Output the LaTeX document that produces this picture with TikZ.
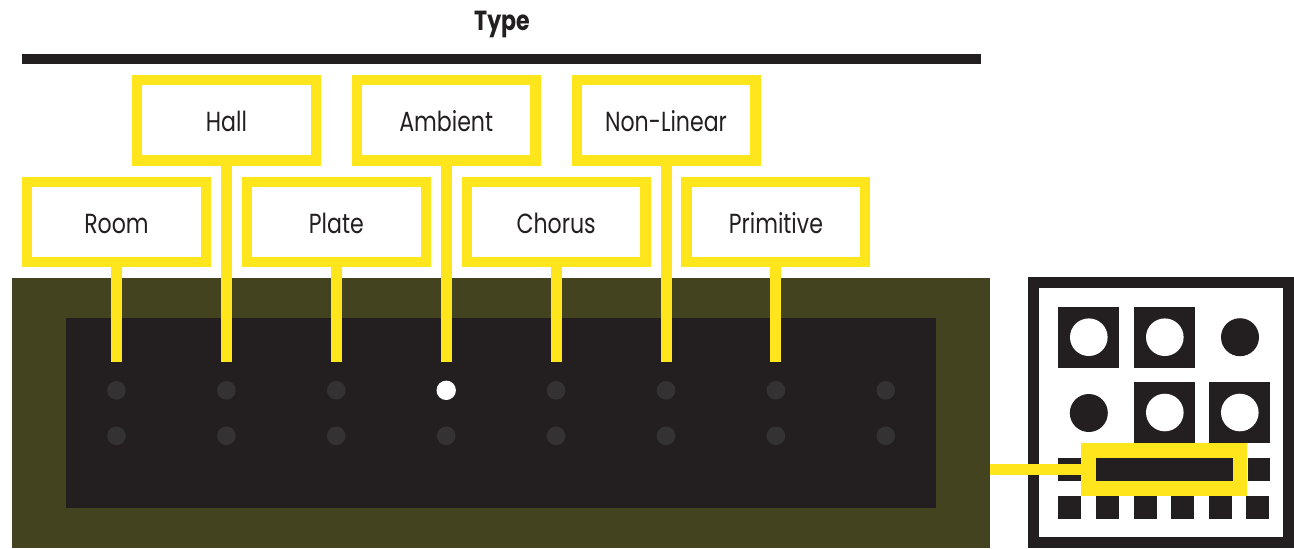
\documentclass[tikz,border=0pt]{standalone}
\usepackage{fontspec}
\setmainfont{Poppins}[FakeStretch=0.8]
\definecolor{ink}{HTML}{231F20}
\definecolor{hiyellow}{HTML}{FFE51C}
\definecolor{olive}{HTML}{43441F}
\definecolor{ledgray}{HTML}{343233}

\begin{document}
\begin{tikzpicture}[x=0.5pt, y=-0.5pt,
    tag/.style={draw=hiyellow, line width=5.15pt, fill=white, inner sep=0pt,
        minimum width=89.35pt, minimum height=40.1pt, text height=11.4pt, text depth=0pt,
        text=ink, font=\fontsize{13.8}{16}\selectfont},
    stem/.style={draw=hiyellow, line width=5.5pt},
    led/.style={fill=ledgray},
    sel/.style={fill=hiyellow, inner sep=0pt, outer sep=0pt, minimum width=83pt, minimum height=26.65pt}]
        \useasboundingbox (0,0) rectangle (1294,548);

        \node[anchor=base, text=ink, font=\bfseries\fontsize{13.8}{16}\selectfont] (title) at (502,30) {Type};
        \fill[ink] (22,54) rectangle (981,64);

        \node[fill=olive, inner sep=0pt, outer sep=0pt, minimum width=489pt, minimum height=135pt] (panel) at (501,413) {};
        \node[fill=ink, inner sep=0pt, outer sep=0pt, minimum width=435pt, minimum height=94.85pt] (screen) at (501.15,412.85) {};

        \foreach \i [evaluate=\i as \x using 6.6+109.9*\i] in {1,...,8} {
            \fill[led] (\x,390.3) circle (4.65pt);
            \fill[led] (\x,435.8) circle (4.65pt);
            \coordinate (s\i) at (\x,362.3);
        }
        \fill[white] (446.2,390.3) circle (4.85pt);

        \node[tag] (room) at (116.5,221.8) {Room};
        \node[tag] (hall) at (226.4,120.3) {Hall};
        \node[tag] (plate) at (336.3,221.8) {Plate};
        \node[tag] (ambient) at (446.2,120.3) {Ambient};
        \node[tag] (chorus) at (556.1,221.8) {Chorus};
        \node[tag] (nonlinear) at (666,120.3) {Non-Linear};
        \node[tag] (primitive) at (775.9,221.8) {Primitive};

        \foreach \n/\i in {room/1, hall/2, plate/3, ambient/4, chorus/5, nonlinear/6, primitive/7}
            \draw[stem] (\n.south) -- (\n.south |- s\i);

        \draw[ink, line width=5.4pt] (1033.1,282.4) rectangle (1288.6,542.6);
        \fill[ink] (1058.3,306.7) rectangle +(61,61);
        \fill[ink] (1134.3,306.7) rectangle +(61,61);
        \fill[ink] (1134.3,382) rectangle +(61,61);
        \fill[ink] (1209.3,382) rectangle +(61,61);
        \fill[white] (1088.8,337.2) circle (9.4pt);
        \fill[white] (1164.8,337.2) circle (9.4pt);
        \fill[white] (1164.8,412.5) circle (9.4pt);
        \fill[white] (1239.8,412.5) circle (9.4pt);
        \fill[ink] (1240,337.2) circle (9.5pt);
        \fill[ink] (1088.8,413) circle (9.5pt);

        \node[sel] (pick) at (1164.3,469.65) {};
        \fill[ink] (1096.3,458.3) rectangle (1233.3,480.7);
        \fill[ink] (1058.3,458.3) rectangle (1081.3,480.7);
        \fill[ink] (1247.7,458.3) rectangle (1270.3,480.7);
        \foreach \x in {1058.3,1095.9,1133.5,1171.1,1208.7,1246.3}
            \fill[ink] (\x,496.3) rectangle +(23,22.4);

        \draw[stem] (panel.east |- pick.west) -- (pick.west);
\end{tikzpicture}
\end{document}
